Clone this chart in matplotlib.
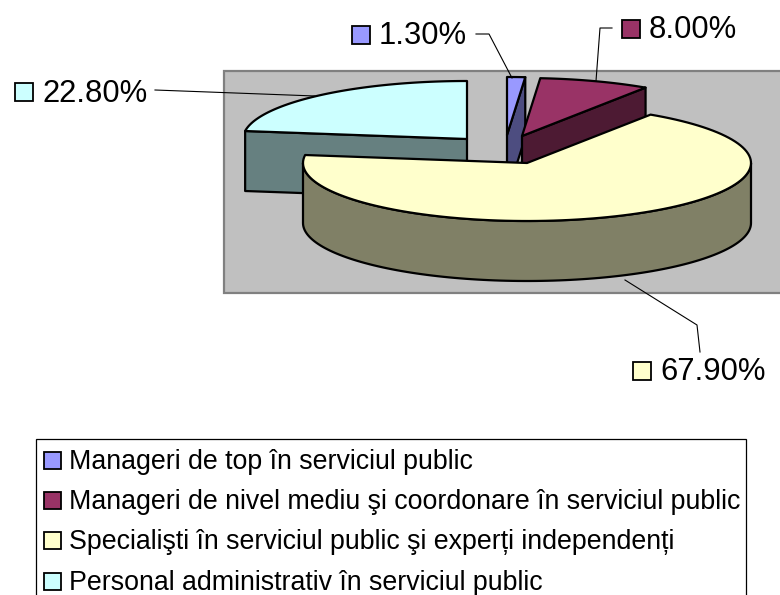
import numpy as np
import matplotlib
matplotlib.use('Agg')
import matplotlib.pyplot as plt
from matplotlib.patches import Polygon, Rectangle

plt.rcParams['font.family'] = ['Liberation Sans', 'DejaVu Sans']

# chart data
categories = ['Manageri de top în serviciul public',
              'Manageri de nivel mediu şi coordonare în serviciul public',
              'Specialişti în serviciul public şi experți independenți',
              'Personal administrativ în serviciul public']
values = [1.30, 8.00, 67.90, 22.80]

# colours
top_colors = ['#9999FF', '#993366', '#FFFFCC', '#CCFFFF']
side_colors = ['#4D4D80', '#4D1A33', '#808066', '#668080']

# layout in image pixels
centers = [(507, 135), (522, 136), (527, 163), (467, 139)]
RX = 224
RY = 58
DEPTH = 60
label_keys = [(351, 25), (621, 19), (632, 361), (14, 82)]
leaders = [([476, 489, 512], [34, 34, 78]),
           ([612, 600, 596], [28, 28, 81]),
           ([700, 697, 625], [352, 325, 280]),
           ([155, 315], [90, 96])]
legend_y = [459, 499, 539, 580]


def arc(center, start, end, shift=0):
    # angles in degrees, clockwise from 12 o'clock
    t = np.radians(np.linspace(start, end, 120))
    return np.column_stack((center[0] + RX * np.sin(t),
                            center[1] + shift - RY * np.cos(t)))


fig = plt.figure(figsize=(7.8, 5.95), dpi=100)
ax = fig.add_axes([0, 0, 1, 1])
ax.set_xlim(0, 780)
ax.set_ylim(595, 0)
ax.axis('off')

ax.add_patch(Rectangle((223.5, 70.5), 560, 222.5, facecolor='#C0C0C0',
                       edgecolor='#808080', linewidth=1.6, zorder=1))

# slice angles from the values
edges = np.concatenate(([0], np.cumsum(values))) * 360 / sum(values)
edge_kw = dict(edgecolor='black', linewidth=1.6, joinstyle='round')

# back slices first, the big one goes over them
for i in [3, 0, 1, 2]:
    c = np.array(centers[i], dtype=float)
    start, end = edges[i], edges[i + 1]
    z = 2 + [3, 0, 1, 2].index(i)

    if i == 2:
        # outer wall of the front
        top = arc(c, 90, 270)
        bottom = arc(c, 90, 270, DEPTH)
        ax.add_patch(Polygon(np.vstack((top, bottom[::-1])), facecolor=side_colors[i],
                             zorder=z, **edge_kw))
    else:
        # flat cut face seen through the open wedge
        cut = start if i == 3 else end
        p = arc(c, cut, cut)[0]
        face = [c, p, p + [0, DEPTH], c + [0, DEPTH]]
        ax.add_patch(Polygon(face, facecolor=side_colors[i], zorder=z, **edge_kw))

    outline = np.vstack(([c], arc(c, start, end)))
    ax.add_patch(Polygon(outline, facecolor=top_colors[i], zorder=z, **edge_kw))

# leader lines
for xs, ys in leaders:
    ax.plot(xs, ys, color='black', linewidth=0.8, zorder=8)

# value labels with their keys
for i, (kx, ky) in enumerate(label_keys):
    ax.add_patch(Rectangle((kx + 1, ky + 1), 18, 18, facecolor=top_colors[i],
                           edgecolor='black', linewidth=1.3, zorder=9))
    ax.text(kx + 28, ky + 8, f'{values[i]:.2f}%', fontsize=22.3, color='black',
            va='center_baseline', ha='left', zorder=9)

# legend box runs off the bottom of the picture
ax.add_patch(Rectangle((35.5, 438.5), 710, 170, facecolor='white',
                       edgecolor='black', linewidth=0.9, zorder=1))
for i, y in enumerate(legend_y):
    ax.add_patch(Rectangle((44, y - 7), 17, 17, facecolor=top_colors[i],
                           edgecolor='black', linewidth=1.3, zorder=9))
    ax.text(69, y, categories[i], fontsize=19.3, color='black',
            va='center_baseline', ha='left', zorder=9)

fig.savefig('out.png', dpi=100)
